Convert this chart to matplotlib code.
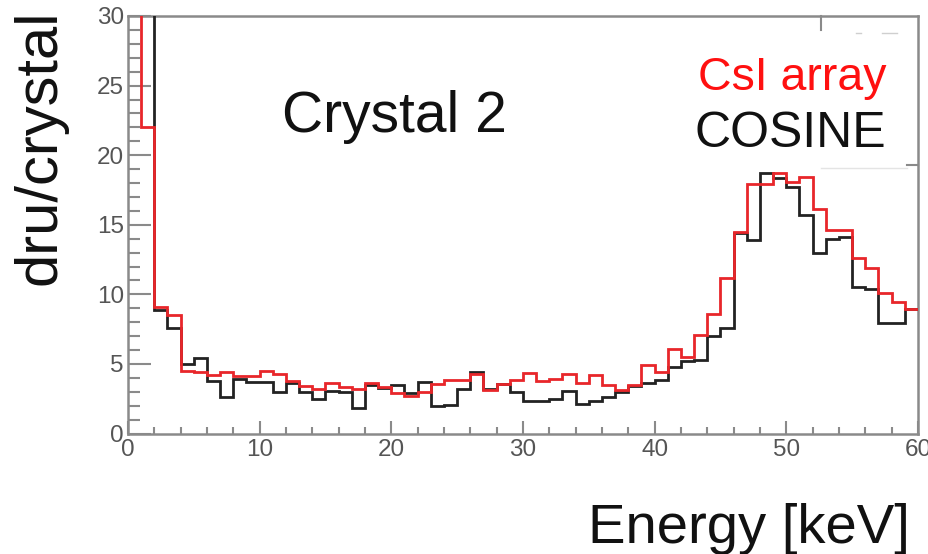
import numpy as np
import matplotlib
matplotlib.use("Agg")
import matplotlib.pyplot as plt
from matplotlib.ticker import MultipleLocator

# 1 keV bins from 0 to 60 keV
bin_edges = np.arange(0, 61, 1)

# CsI array spectrum (dru/crystal)
csi_array = [
    40.0, 22.0, 9.1, 8.5, 4.5, 4.4, 4.2, 4.4, 4.1, 4.1,
    4.5, 4.25, 3.8, 3.4, 3.2, 3.65, 3.35, 3.2, 3.6, 3.35,
    2.9, 2.7, 3.0, 3.55, 3.85, 3.85, 4.3, 3.1, 3.55, 3.85,
    4.35, 3.8, 3.9, 4.25, 3.65, 4.2, 3.45, 3.1, 3.45, 4.95,
    4.4, 6.1, 5.5, 7.1, 8.6, 11.2, 14.5, 17.9, 17.95, 18.75,
    18.1, 18.4, 16.1, 14.6, 14.6, 12.6, 11.9, 10.1, 9.45, 8.95,
]

# COSINE spectrum (dru/crystal)
cosine = [
    45.0, 40.0, 8.9, 7.6, 5.0, 5.45, 3.8, 2.65, 3.95, 3.7,
    3.7, 3.0, 3.65, 3.0, 2.5, 3.05, 3.0, 1.8, 3.45, 3.3,
    3.5, 2.9, 3.7, 1.95, 2.05, 3.2, 4.4, 3.2, 3.55, 3.0,
    2.3, 2.3, 2.5, 3.05, 2.1, 2.35, 2.65, 2.95, 3.4, 3.6,
    3.86, 4.75, 5.2, 5.3, 7.0, 7.6, 14.4, 13.9, 18.7, 18.35,
    17.7, 15.7, 13.0, 14.0, 14.15, 10.55, 10.4, 7.95, 7.95, 8.95,
]

x_ticks = [0, 10, 20, 30, 40, 50, 60]
y_ticks = [0, 5, 10, 15, 20, 25, 30]

plt.rcParams["font.family"] = ["Liberation Sans", "DejaVu Sans"]

W, H = 929, 554
fig = plt.figure(figsize=(W / 100, H / 100), dpi=100)
ax = fig.add_axes([128 / W, 1 - 433.5 / H, 790 / W, 417.5 / H])

frame_col = "#8a8a8a"
black_col = "#222222"
red_col = "#e8262a"

ax.stairs(cosine, bin_edges, baseline=None, color=black_col, linewidth=2.0, zorder=3)
ax.stairs(csi_array, bin_edges, baseline=None, color=red_col, linewidth=2.0, zorder=4)

ax.set_xlim(0, 60)
ax.set_ylim(0, 30)

ax.set_xticks(x_ticks)
ax.set_yticks(y_ticks)
ax.xaxis.set_minor_locator(MultipleLocator(2))
ax.yaxis.set_minor_locator(MultipleLocator(1))

for s in ax.spines.values():
    s.set_color(frame_col)
    s.set_linewidth(1.8)

ax.tick_params(axis="both", which="both", direction="in", color=frame_col,
               width=1.5, labelcolor="#555555", labelsize=17.5,
               top=False, right=False)
ax.tick_params(axis="x", which="major", length=9.4, pad=4)
ax.tick_params(axis="x", which="minor", length=4.7)
ax.tick_params(axis="y", which="major", length=16.5, pad=3)
ax.tick_params(axis="y", which="minor", length=8.6)

# legend box remnants at the top right
ax.plot([52.67, 52.67], [30, 29.0], color=frame_col, lw=1.5, clip_on=False, zorder=5)
ax.plot([59.2, 60], [19.3, 19.3], color=frame_col, lw=1.5, clip_on=False, zorder=5)
ax.plot([52.6, 59.2], [19.1, 19.1], color="#e4e4e4", lw=1.0, zorder=1)
ax.plot([55.3, 55.7], [28.8, 28.8], color="#cfcfcf", lw=1.0, zorder=1)
ax.plot([57.3, 58.4], [28.8, 28.8], color="#cfcfcf", lw=1.0, zorder=1)

ax.text(11.7, 21.7, "Crystal 2", fontsize=41, color="#111111", va="baseline", ha="left")
ax.text(57.6, 24.7, "CsI array", fontsize=33.5, color="#ff1010", va="baseline", ha="right")
ax.text(57.6, 20.6, "COSINE", fontsize=36, color="#111111", va="baseline", ha="right")

fig.text(40 / W, 1 - 147 / H, "dru/crystal", rotation=90, fontsize=43,
         color="#111111", ha="center", va="center")
fig.text(910 / W, 11 / H, "Energy [keV]", fontsize=40.5, color="#111111",
         ha="right", va="baseline")

fig.savefig("out.png", dpi=100, facecolor="white")
